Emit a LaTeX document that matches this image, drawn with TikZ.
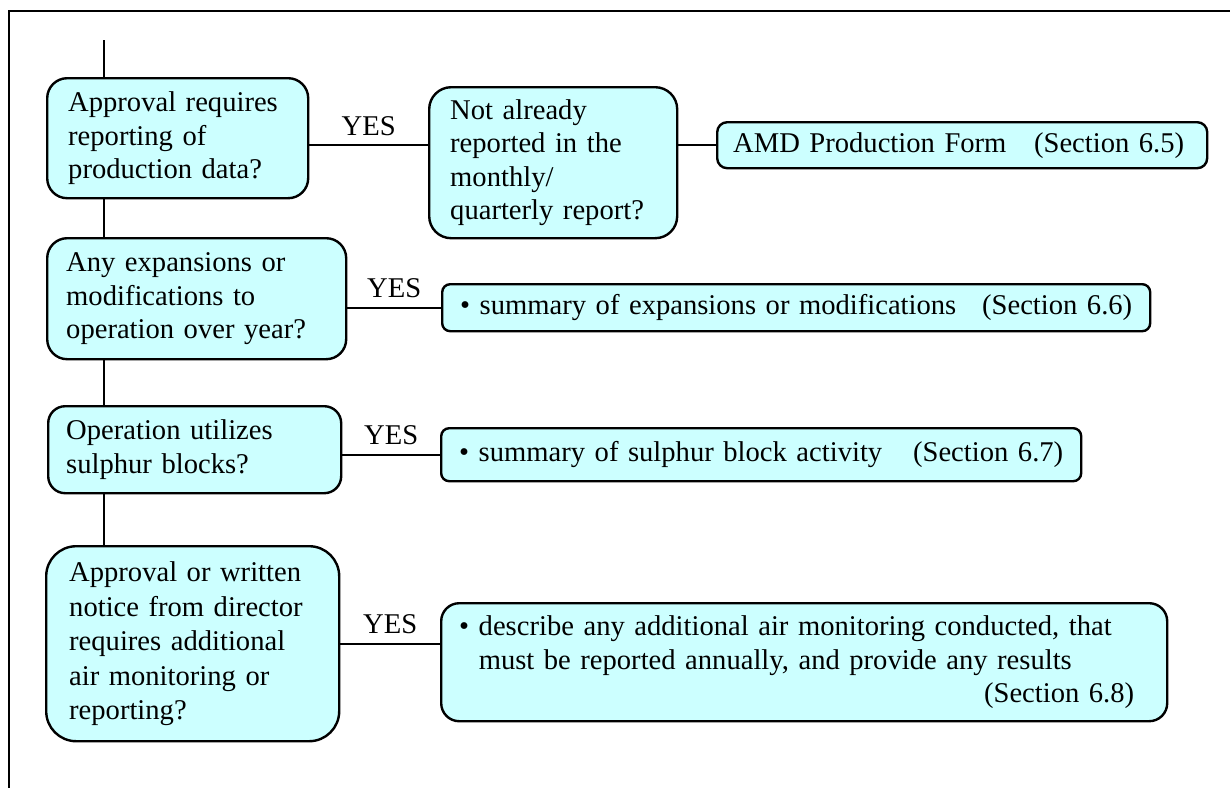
\documentclass[tikz,border=0pt]{standalone}
\usepackage{fontspec}
\setmainfont{Liberation Serif}
\definecolor{boxfill}{RGB}{204,255,255}
\begin{document}
\begin{tikzpicture}[x=1pt,y=-1pt,line width=1.6pt,
    every node/.style={font=\fontsize{28.6}{33.5}\selectfont},
    box/.style={draw,line width=2.4pt,fill=boxfill,anchor=north west,align=left,inner ysep=0pt},
    yes/.style={above=8pt,inner sep=1pt}]
        \useasboundingbox (0,0) rectangle (1230,788);
        \draw[line width=2.2pt] (1230,11) -- (9,11) -- (9,788);
        
        \coordinate (T) at (104,40);
        
        \node[box,rounded corners=20pt,minimum width=261pt,minimum height=120pt,text width=219pt,inner xsep=21pt] (Q1) at (46,77) {Approval requires\\reporting of\\production data?};
        \node[box,rounded corners=22pt,minimum width=248pt,minimum height=151pt,text width=206pt,inner xsep=21pt] (R1) at (428,86) {Not already\\reported in the\\monthly/\\quarterly report?};
        \node[box,rounded corners=10pt,minimum width=490pt,minimum height=46pt,text width=458pt,inner xsep=16pt] (A1) at (716,121) {\makebox[\linewidth][l]{AMD Production Form\hfill(Section 6.5)\hspace*{7pt}}};
        
        \node[box,rounded corners=20pt,minimum width=299pt,minimum height=121pt,text width=261pt,inner xsep=19pt] (Q2) at (46,237) {Any expansions or\\modifications to\\operation over year?};
        \node[box,rounded corners=8pt,minimum width=708pt,minimum height=47pt,text width=672pt,inner xsep=18pt] (A2) at (441,283) {\makebox[\linewidth][l]{\textbullet\ summary of expansions or modifications\hfill(Section 6.6)}};
        
        \node[box,rounded corners=17pt,minimum width=293pt,minimum height=87pt,text width=257pt,inner xsep=18pt] (Q3) at (47,405) {Operation utilizes\\sulphur blocks?};
        \node[box,rounded corners=8pt,minimum width=640pt,minimum height=53pt,text width=604pt,inner xsep=18pt] (A3) at (440,427) {\makebox[\linewidth][l]{\textbullet\ summary of sulphur block activity\hfill(Section 6.7)}};
        
        \node[box,rounded corners=30pt,minimum width=293pt,minimum height=195pt,text width=247pt,inner xsep=23pt,font=\fontsize{28.6}{34.5}\selectfont] (Q4) at (45,545) {Approval or written\\notice from director\\requires additional\\air monitoring or\\reporting?};
        \node[box,rounded corners=18pt,minimum width=726pt,minimum height=118pt,text width=690pt,inner xsep=18pt] (A4) at (440,602) {\textbullet\ describe any additional air monitoring conducted, that\\\phantom{\textbullet\ }must be reported annually, and provide any results\\\makebox[\linewidth][r]{(Section 6.8)\hspace*{15pt}}};
        
        \draw (T) -- (T |- Q1.north);
        \draw (T |- Q1.south) -- (T |- Q2.north);
        \draw (T |- Q2.south) -- (T |- Q3.north);
        \draw (T |- Q3.south) -- (T |- Q4.north);
        
        \draw (Q1.east |- A1.west) -- node[yes] {YES} (R1.west |- A1.west);
        \draw (R1.east |- A1.west) -- (A1.west);
        \draw (Q2.east |- A2.west) -- node[yes] {YES} (A2.west);
        \draw (Q3.east |- A3.west) -- node[yes] {YES} (A3.west);
        \draw (Q4.east) -- node[yes] {YES} (A4.west |- Q4.east);
    \end{tikzpicture}
\end{document}
